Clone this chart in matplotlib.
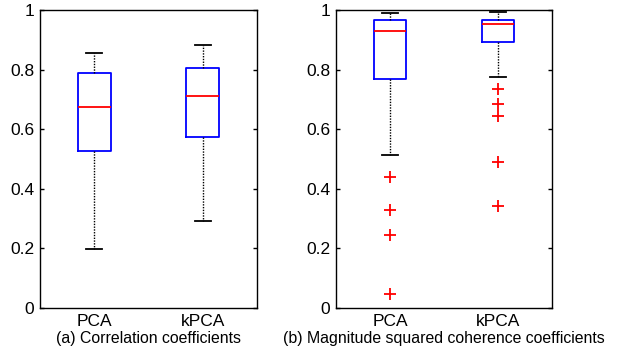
import matplotlib
matplotlib.use("Agg")
import matplotlib.pyplot as plt

plt.rcParams['font.family'] = ['Liberation Sans', 'DejaVu Sans']

categories = ["PCA", "kPCA"]
y_ticks = [0, 0.2, 0.4, 0.6, 0.8, 1]
y_tick_labels = ["0", "0.2", "0.4", "0.6", "0.8", "1"]

# panel (a) Correlation coefficients
corr_whislo = [0.197, 0.292]
corr_q1 = [0.526, 0.575]
corr_med = [0.673, 0.713]
corr_q3 = [0.787, 0.807]
corr_whishi = [0.855, 0.884]
corr_fliers = [[], []]

# panel (b) Magnitude squared coherence coefficients
msc_whislo = [0.512, 0.774]
msc_q1 = [0.768, 0.891]
msc_med = [0.931, 0.954]
msc_q3 = [0.968, 0.968]
msc_whishi = [0.989, 0.993]
msc_fliers = [[0.441, 0.330, 0.244, 0.048],
              [0.735, 0.683, 0.644, 0.491, 0.342]]

xlabels = ["(a) Correlation coefficients",
           "(b) Magnitude squared coherence coefficients"]


def make_stats(lo, q1, med, q3, hi, fl):
    return [dict(whislo=lo[i], q1=q1[i], med=med[i], q3=q3[i], whishi=hi[i],
                 fliers=fl[i], label=categories[i]) for i in range(len(categories))]


fig = plt.figure(figsize=(6.21, 3.5), dpi=100)
ax1 = fig.add_axes([40 / 621, 42 / 350, 217 / 621, 298 / 350])
ax2 = fig.add_axes([336 / 621, 42 / 350, 216 / 621, 298 / 350])

panels = [
    (ax1, make_stats(corr_whislo, corr_q1, corr_med, corr_q3, corr_whishi, corr_fliers)),
    (ax2, make_stats(msc_whislo, msc_q1, msc_med, msc_q3, msc_whishi, msc_fliers)),
]

for (ax, stats), xl in zip(panels, xlabels):
    ax.bxp(stats, positions=[1, 2], widths=0.3, showfliers=True,
           boxprops=dict(color='#0000ff', linewidth=1.3),
           medianprops=dict(color='#ff0000', linewidth=1.3),
           whiskerprops=dict(color='black', linewidth=1.0, linestyle=(0, (1, 1))),
           capprops=dict(color='black', linewidth=1.3),
           capwidths=0.15,
           flierprops=dict(marker='+', markeredgecolor='#ff0000', markersize=8,
                           markeredgewidth=1.3, linestyle='none'))
    ax.set_xlim(0.5, 2.5)
    ax.set_ylim(0, 1)
    ax.set_yticks(y_ticks)
    ax.set_yticklabels(y_tick_labels)
    ax.set_xticks([1, 2])
    ax.set_xticklabels(categories)
    ax.tick_params(axis='y', direction='in', length=3, right=True, labelsize=12.5, width=1.0, pad=4)
    ax.tick_params(axis='x', length=0, labelsize=12.5, pad=4)
    for s in ax.spines.values():
        s.set_linewidth(1.0)
    ax.set_xlabel(xl, fontsize=11.4, labelpad=1.5)

fig.savefig("out.png", dpi=100)
